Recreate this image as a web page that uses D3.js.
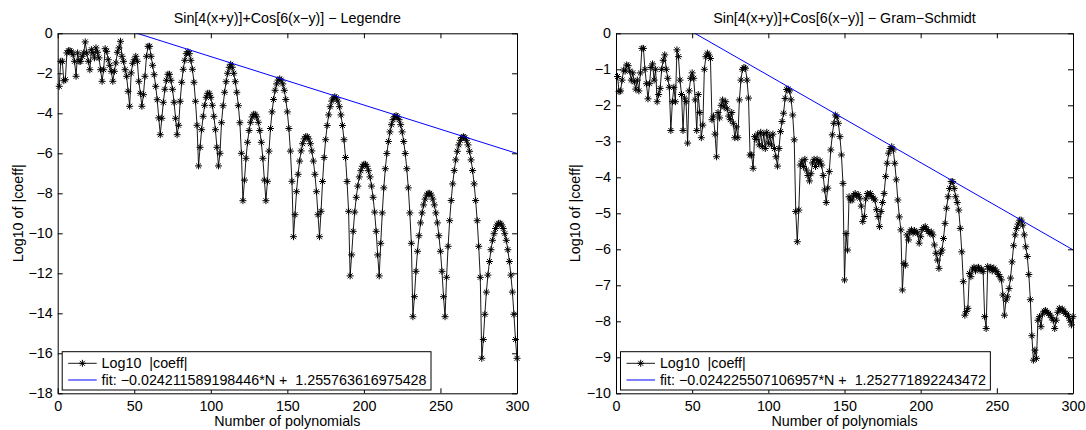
<!DOCTYPE html>
<html>
<head>
<meta charset="utf-8">
<script src="https://cdn.jsdelivr.net/npm/d3@7"></script>
<style>
  body { margin: 0; background: #fff; }
  svg text { font-family: "Liberation Sans", Arial, Helvetica, sans-serif; }
</style>
</head>
<body>
<svg id="chart" width="1086" height="430"></svg>
<script>
// log10 |coeff| for N = 1..300
const legendreLog10Coeff = [
  -2.65, -1.40, -1.40, -2.37, -2.32, -0.98, -0.87, -0.87, -0.93, -1.07,
  -1.40, -2.15, -0.98, -1.40, -1.40, -1.15, -0.98, -0.43, -0.98, -1.40,
  -1.82, -0.82, -0.98, -1.23, -0.73, -0.95, -1.23, -1.82, -2.40, -1.82,
  -0.77, -0.90, -1.32, -1.60, -1.90, -2.40, -1.90, -1.48, -0.95, -0.73,
  -0.40, -1.15, -1.40, -1.82, -2.15, -2.90, -3.65, -1.98, -1.50, -1.32,
  -1.15, -1.40, -2.40, -3.00, -3.65, -3.07, -2.15, -1.15, -0.65, -0.65,
  -1.15, -1.60, -2.07, -2.65, -3.32, -4.23, -5.07, -4.25, -3.45, -2.80,
  -2.35, -2.05, -2.05, -2.35, -2.80, -3.45, -4.25, -5.07, -4.60, -3.40,
  -2.45, -1.80, -1.35, -1.02, -0.92, -1.02, -1.35, -1.80, -2.45, -3.40,
  -4.60, -6.63, -5.70, -4.82, -4.15, -3.60, -3.20, -3.00, -3.00, -3.20,
  -3.60, -4.15, -4.82, -5.70, -6.63, -6.00, -4.47, -3.62, -2.95, -2.42,
  -2.00, -1.70, -1.55, -1.70, -2.00, -2.42, -2.95, -3.62, -4.47, -6.00,
  -8.37, -7.34, -6.25, -5.45, -4.86, -4.45, -4.18, -4.05, -4.05, -4.18,
  -4.45, -4.86, -5.45, -6.25, -7.34, -8.37, -7.40, -5.89, -4.76, -3.93,
  -3.31, -2.85, -2.53, -2.34, -2.28, -2.34, -2.53, -2.85, -3.31, -3.93,
  -4.76, -5.89, -7.40, -10.17, -9.07, -7.92, -7.05, -6.39, -5.88, -5.52,
  -5.28, -5.17, -5.17, -5.28, -5.52, -5.88, -6.39, -7.05, -7.92, -9.07,
  -10.17, -8.90, -7.41, -6.21, -5.32, -4.61, -4.08, -3.67, -3.39, -3.23,
  -3.17, -3.23, -3.39, -3.67, -4.08, -4.61, -5.32, -6.21, -7.41, -8.90,
  -12.13, -11.08, -9.90, -8.94, -8.20, -7.64, -7.18, -6.87, -6.65, -6.55,
  -6.55, -6.65, -6.87, -7.18, -7.64, -8.20, -8.94, -9.90, -11.08, -12.13,
  -10.50, -8.98, -7.73, -6.77, -6.01, -5.41, -4.93, -4.57, -4.32, -4.17,
  -4.12, -4.17, -4.32, -4.57, -4.93, -5.41, -6.01, -6.77, -7.73, -8.98,
  -10.50, -14.17, -13.17, -11.90, -10.90, -10.12, -9.48, -8.98, -8.58, -8.29,
  -8.09, -8.00, -8.00, -8.09, -8.29, -8.58, -8.98, -9.48, -10.12, -10.90,
  -11.90, -13.17, -14.17, -12.20, -10.65, -9.37, -8.36, -7.53, -6.86, -6.33,
  -5.90, -5.58, -5.35, -5.21, -5.17, -5.21, -5.35, -5.58, -5.90, -6.33,
  -6.86, -7.53, -8.36, -9.37, -10.65, -12.20, -16.25, -15.31, -14.05, -12.94,
  -12.09, -11.41, -10.82, -10.35, -10.02, -9.76, -9.58, -9.50, -9.50, -9.58,
  -9.76, -10.02, -10.35, -10.82, -11.41, -12.09, -12.94, -14.05, -15.31, -16.25
];

const gramSchmidtLog10Coeff = [
  -1.20, -1.62, -1.60, -1.30, -1.02, -1.05, -0.88, -0.90, -1.05, -1.30,
  -1.10, -1.35, -1.55, -1.30, -1.60, -1.10, -0.42, -0.42, -1.00, -1.40,
  -1.82, -1.40, -0.95, -0.85, -1.30, -1.00, -1.90, -1.70, -1.53, -1.00,
  -0.75, -0.60, -1.00, -1.25, -1.50, -2.70, -1.90, -1.50, -1.90, -0.46,
  -0.65, -1.30, -1.70, -2.70, -1.80, -1.90, -3.05, -1.60, -1.25, -1.10,
  -1.25, -1.85, -2.70, -1.70, -2.20, -2.90, -2.55, -1.00, -0.65, -0.55,
  -0.60, -0.70, -2.40, -2.30, -2.80, -3.43, -2.20, -2.35, -2.00, -1.85,
  -2.05, -1.90, -2.10, -2.30, -2.40, -2.20, -2.50, -2.90, -2.60, -2.90,
  -1.85, -1.30, -1.00, -0.95, -0.97, -1.30, -1.80, -3.38, -3.38, -3.75,
  -2.87, -2.95, -2.80, -3.10, -2.75, -3.15, -2.80, -3.20, -2.75, -3.05,
  -2.85, -3.10, -2.80, -3.20, -3.43, -3.69, -3.20, -2.73, -2.45, -2.22,
  -1.81, -1.56, -1.55, -1.60, -1.85, -2.27, -2.96, -4.95, -5.79, -4.91,
  -3.66, -3.55, -3.70, -3.50, -3.80, -3.95, -4.10, -3.90, -3.60, -3.50,
  -3.70, -3.50, -3.60, -3.55, -3.66, -3.95, -4.35, -4.70, -4.30, -3.84,
  -3.24, -2.82, -2.50, -2.27, -2.32, -2.50, -2.87, -3.38, -4.17, -6.85,
  -5.56, -6.02, -4.54, -4.63, -4.63, -4.50, -4.45, -4.52, -4.48, -4.58,
  -4.80, -5.23, -5.09, -4.60, -4.45, -4.50, -4.45, -4.54, -4.58, -4.63,
  -4.90, -5.09, -5.37, -4.95, -4.70, -4.45, -3.98, -3.61, -3.33, -3.20,
  -3.15, -3.24, -3.61, -4.07, -4.63, -5.10, -5.46, -7.13, -6.39, -6.44,
  -5.60, -5.74, -5.50, -5.46, -5.55, -5.48, -5.52, -5.55, -5.83, -5.65,
  -5.45, -5.40, -5.37, -5.45, -5.50, -5.56, -5.52, -5.60, -5.88, -6.11,
  -6.30, -6.53, -6.11, -6.02, -5.70, -5.28, -4.86, -4.54, -4.31, -4.12,
  -4.12, -4.31, -4.54, -4.70, -4.91, -5.42, -6.07, -6.90, -7.83, -7.73,
  -7.64, -6.67, -6.76, -6.55, -6.50, -6.60, -6.52, -6.50, -6.58, -6.55,
  -6.62, -7.87, -8.20, -6.48, -6.55, -6.50, -6.60, -6.52, -6.58, -6.62,
  -6.70, -6.76, -6.85, -7.27, -7.83, -7.41, -7.32, -7.09, -6.80, -6.35,
  -5.90, -5.60, -5.42, -5.30, -5.19, -5.19, -5.33, -5.60, -5.93, -6.20,
  -6.70, -7.40, -8.40, -9.08, -8.80, -9.03, -7.97, -7.87, -8.15, -7.80,
  -7.72, -7.70, -7.75, -7.78, -7.83, -7.90, -7.97, -8.20, -7.97, -7.75,
  -7.64, -7.68, -7.66, -7.72, -7.78, -7.80, -7.87, -7.97, -8.10, -7.87
];

// [slope, intercept] of the fitted line, as printed in the legends
const legendreFitCoef = [-0.024211589198446, 1.255763616975428];
const gramSchmidtFitCoef = [-0.024225507106957, 1.252771892243472];
const fitRangeN = [1, 300];

const xTickValues = [0, 50, 100, 150, 200, 250, 300];
const legendreYTicks = [-18, -16, -14, -12, -10, -8, -6, -4, -2, 0];
const gramSchmidtYTicks = [-10, -9, -8, -7, -6, -5, -4, -3, -2, -1, 0];

const legendreTitle = "Sin[4(x+y)]+Cos[6(x\u2212y)] \u2212 Legendre";
const gramSchmidtTitle = "Sin[4(x+y)]+Cos[6(x\u2212y)] \u2212 Gram\u2212Schmidt";
const seriesLabel = "Log10  |coeff|";
const legendreFitLabel = "fit: \u22120.024211589198446*N +  1.255763616975428";
const gramSchmidtFitLabel = "fit: \u22120.024225507106957*N +  1.252771892243472";

const FONT_SIZE = 14.3;
const TICK = 5;
const svg = d3.select("#chart");

// MATLAB style '*' marker
function star(r) {
  const a = r * 0.7071;
  return `M${-r},0L${r},0M0,${-r}L0,${r}M${-a},${-a}L${a},${a}M${-a},${a}L${a},${-a}`;
}

function drawPanel(p) {
  const g = svg.append("g").attr("transform", `translate(${p.left},${p.top})`);

  const x = d3.scaleLinear().domain([0, 300]).range([0, p.width]);
  const y = d3.scaleLinear().domain([p.yTicks[0], 0]).range([p.height, 0]);

  g.append("clipPath")
    .attr("id", `clip-${p.id}`)
    .append("rect")
    .attr("width", p.width)
    .attr("height", p.height);

  // data line + markers
  g.append("path")
    .datum(p.values)
    .attr("fill", "none")
    .attr("stroke", "#000")
    .attr("stroke-width", 0.9)
    .attr("d", d3.line().x((d, i) => x(i + 1)).y((d) => y(d)));

  g.append("g")
    .selectAll("path")
    .data(p.values)
    .join("path")
    .attr("transform", (d, i) => `translate(${x(i + 1)},${y(d)})`)
    .attr("d", star(3.5))
    .attr("fill", "none")
    .attr("stroke", "#000")
    .attr("stroke-width", 1);

  // fitted line, clipped by the axes
  g.append("path")
    .datum(fitRangeN)
    .attr("clip-path", `url(#clip-${p.id})`)
    .attr("fill", "none")
    .attr("stroke", "#0000ff")
    .attr("stroke-width", 1)
    .attr("d", d3.line().x((n) => x(n)).y((n) => y(p.fit[0] * n + p.fit[1])));

  // axes, ticks inward on all four sides
  const styleAxis = (sel) => {
    sel.attr("font-size", FONT_SIZE).attr("font-family", null);
    sel.select(".domain").attr("stroke", "#000").attr("stroke-width", 1);
    sel.selectAll(".tick line").attr("stroke", "#000").attr("stroke-width", 1);
    sel.selectAll(".tick text").attr("fill", "#000");
  };

  g.append("g")
    .attr("transform", `translate(0,${p.height})`)
    .call(d3.axisBottom(x).tickValues(xTickValues).tickSizeInner(-TICK).tickSizeOuter(0).tickPadding(8))
    .call(styleAxis);

  g.append("g")
    .call(d3.axisTop(x).tickValues(xTickValues).tickSizeInner(-TICK).tickSizeOuter(0).tickFormat(() => ""))
    .call(styleAxis);

  g.append("g")
    .call(d3.axisLeft(y).tickValues(p.yTicks).tickSizeInner(-TICK).tickSizeOuter(0).tickPadding(5))
    .call(styleAxis);

  g.append("g")
    .attr("transform", `translate(${p.width},0)`)
    .call(d3.axisRight(y).tickValues(p.yTicks).tickSizeInner(-TICK).tickSizeOuter(0).tickFormat(() => ""))
    .call(styleAxis);

  // title and axis labels
  g.append("text")
    .attr("x", p.width / 2)
    .attr("y", -10.5)
    .attr("text-anchor", "middle")
    .attr("font-size", FONT_SIZE)
    .text(p.title);

  g.append("text")
    .attr("x", p.width / 2)
    .attr("y", p.height + 33)
    .attr("text-anchor", "middle")
    .attr("font-size", FONT_SIZE)
    .text("Number of polynomials");

  g.append("text")
    .attr("transform", `translate(${p.yLabelX},${p.height / 2}) rotate(-90)`)
    .attr("text-anchor", "middle")
    .attr("font-size", FONT_SIZE)
    .text("Log10 of |coeff|");

  // legend, lower left
  const lg = g.append("g").attr("transform", `translate(4.5,${p.height - 41.6})`);
  const box = lg.append("rect")
    .attr("height", 38.3)
    .attr("fill", "#fff")
    .attr("stroke", "#000")
    .attr("stroke-width", 1);

  const rows = [
    { label: seriesLabel, color: "#000", marker: true, cy: 11.6 },
    { label: p.fitLabel, color: "#0000ff", marker: false, cy: 28.3 },
  ];
  let maxLen = 0;
  rows.forEach((r) => {
    lg.append("line")
      .attr("x1", 6).attr("x2", 34.5)
      .attr("y1", r.cy).attr("y2", r.cy)
      .attr("stroke", r.color)
      .attr("stroke-width", r.marker ? 0.9 : 1);
    if (r.marker) {
      lg.append("path")
        .attr("transform", `translate(20.2,${r.cy})`)
        .attr("d", star(3.5))
        .attr("fill", "none")
        .attr("stroke", "#000")
        .attr("stroke-width", 1);
    }
    const t = lg.append("text")
      .attr("x", 39.4)
      .attr("y", r.cy)
      .attr("dy", "0.35em")
      .attr("font-size", FONT_SIZE)
      .attr("xml:space", "preserve")
      .style("white-space", "pre")
      .text(r.label);
    maxLen = Math.max(maxLen, t.node().getComputedTextLength());
  });
  box.attr("width", 39.4 + maxLen + 4.5);
}

drawPanel({
  id: "legendre",
  left: 57.7,
  top: 33.3,
  width: 459.3,
  height: 360,
  yLabelX: -34.5,
  values: legendreLog10Coeff,
  fit: legendreFitCoef,
  yTicks: legendreYTicks,
  title: legendreTitle,
  fitLabel: legendreFitLabel,
});

drawPanel({
  id: "gram",
  left: 616,
  top: 33.3,
  width: 457,
  height: 360,
  yLabelX: -36,
  values: gramSchmidtLog10Coeff,
  fit: gramSchmidtFitCoef,
  yTicks: gramSchmidtYTicks,
  title: gramSchmidtTitle,
  fitLabel: gramSchmidtFitLabel,
});
</script>
</body>
</html>
